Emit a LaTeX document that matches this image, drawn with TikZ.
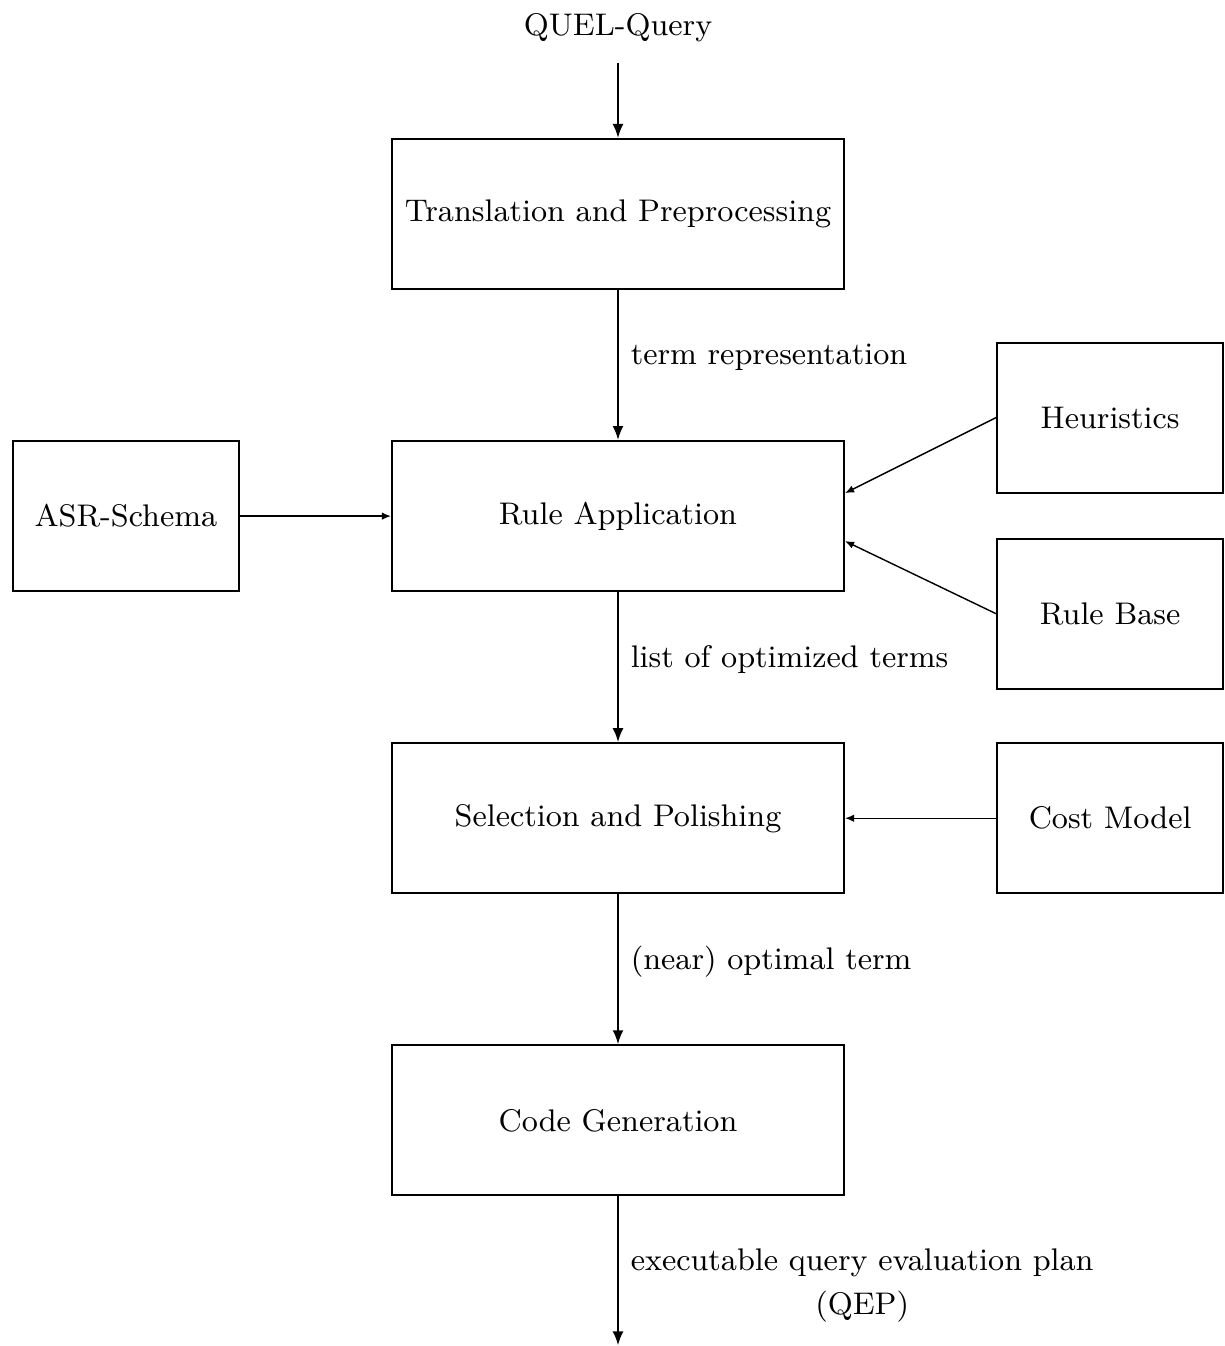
\documentclass[tikz,border=0pt]{standalone}
\usetikzlibrary{arrows.meta,positioning}

\begin{document}
\begin{tikzpicture}[
    node distance=1.5cm,
    stage/.style={rectangle, draw, line width=0.6pt, minimum width=4.52cm, minimum height=1.50cm, font=\fontsize{8.9}{11}\selectfont},
    source/.style={rectangle, draw, line width=0.6pt, minimum width=2.26cm, minimum height=1.50cm, font=\fontsize{8.9}{11}\selectfont},
    flow/.style={-{Latex[length=1.4mm,width=1.1mm]}, line width=0.6pt},
    feed/.style={-{Latex[length=0.9mm,width=0.75mm]}, line width=0.4pt},
    note/.style={font=\fontsize{8.9}{12.5}\selectfont, align=center}
]
\useasboundingbox (0,0) rectangle (12.24,-13.46);

% Main pipeline
\node[stage] (trans) at (6.18,-2.14) {Translation and Preprocessing};
\node[note, above=0.75cm of trans, inner sep=0.2cm] (query) {QUEL-Query};
\node[stage, below=1.5cm of trans] (ruleapp) {Rule Application};
\node[stage, below=1.5cm of ruleapp] (select) {Selection and Polishing};
\node[stage, below=1.5cm of select] (codegen) {Code Generation};
\coordinate[below=1.49cm of codegen.south] (plan);

% Inputs to the optimizer
\node[source, left=1.51cm of ruleapp] (schema) {ASR-Schema};
\node[source, right=1.51cm of ruleapp, yshift=0.985cm] (heur) {Heuristics};
\node[source, below=0.44cm of heur] (rules) {Rule Base};
\node[source, right=1.51cm of select] (cost) {Cost Model};

% Arrows
\draw[flow] (query) -- (trans);
\draw[flow] (trans) -- node[note, right, yshift=0.08cm] {term representation} (ruleapp);
\draw[flow] (ruleapp) -- node[note, right, yshift=0.08cm] {list of optimized terms} (select);
\draw[flow] (select) -- node[note, right, yshift=0.08cm] {(near) optimal term} (codegen);
\draw[flow] (codegen) -- node[note, right, yshift=-0.15cm] {executable query evaluation plan\\(QEP)} (plan);

\draw[feed] (schema) -- (ruleapp);
\draw[feed] (heur.west) -- ([yshift=0.23cm]ruleapp.east);
\draw[feed] (rules.west) -- ([yshift=-0.25cm]ruleapp.east);
\draw[feed] (cost) -- (select);

\end{tikzpicture}
\end{document}
